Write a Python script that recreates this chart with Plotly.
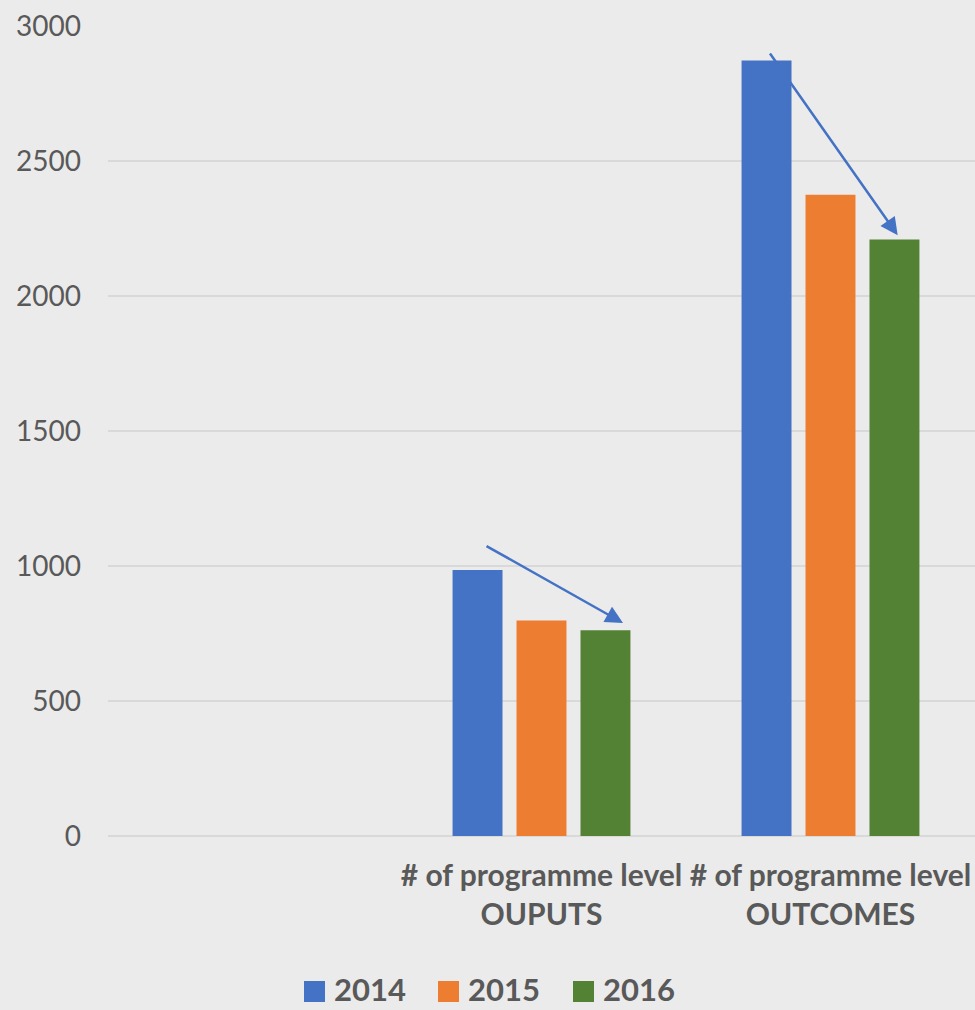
import plotly.graph_objects as go

# Categories (first slot intentionally blank)
categories = [" ", "# of programme level<br>OUPUTS", "# of programme level<br>OUTCOMES"]
years = ["2014", "2015", "2016"]
values_2014 = [None, 985, 2872]
values_2015 = [None, 798, 2375]
values_2016 = [None, 762, 2209]
colors = ["#4472C4", "#ED7D31", "#548235"]
y_ticks = [0, 500, 1000, 1500, 2000, 2500, 3000]

FONT = "Lato"
TEXT_COLOR = "#595959"
BG = "#EBEBEB"

W, H = 975, 1010
PLOT_L, PLOT_T, PLOT_B = 108, 26, 836

fig = go.Figure()
for name, vals, col in zip(years, [values_2014, values_2015, values_2016], colors):
    fig.add_trace(go.Bar(
        x=categories, y=vals, name=name,
        marker=dict(color=col, line=dict(width=0)),
        showlegend=False,
    ))

# Trend arrows (head at x/y, tail at ax/ay) in data coordinates
arrows = [
    dict(x=1.282, y=789, ax=0.8045, ay=1077),
    dict(x=2.2325, y=2225, ax=1.787, ay=2904),
]
for a in arrows:
    fig.add_annotation(
        x=a["x"], y=a["y"], ax=a["ax"], ay=a["ay"],
        xref="x", yref="y", axref="x", ayref="y",
        text="", showarrow=True, arrowhead=2, arrowsize=1.4,
        arrowwidth=2.5, arrowcolor="#4472C4",
    )


def px_x(p):
    return (p - PLOT_L) / (W - PLOT_L)


def px_y(p):
    return (PLOT_B - p) / (PLOT_B - PLOT_T)


# Legend drawn as square swatches with bold labels below the plot
legend_x = [304, 438, 573]  # swatch left edges in px
for xpx, name, col in zip(legend_x, years, colors):
    fig.add_shape(
        type="rect", xref="paper", yref="paper",
        x0=px_x(xpx), x1=px_x(xpx + 21),
        y0=px_y(1002), y1=px_y(981),
        fillcolor=col, line=dict(width=0),
    )
    fig.add_annotation(
        x=px_x(xpx + 29), y=px_y(1009),
        xref="paper", yref="paper", xanchor="left", yanchor="bottom",
        text="<b>%s</b>" % name, showarrow=False, borderpad=0,
        font=dict(family=FONT, size=31, color=TEXT_COLOR),
    )

fig.update_layout(
    width=W, height=H,
    margin=dict(l=PLOT_L, r=0, t=PLOT_T, b=H - PLOT_B),
    paper_bgcolor=BG, plot_bgcolor=BG,
    barmode="group", bargap=0.336, bargroupgap=0.219,
    font=dict(family=FONT, color=TEXT_COLOR),
    xaxis=dict(
        type="category", categoryorder="array", categoryarray=categories,
        range=[-0.5, 2.5], showgrid=False, zeroline=False, showline=False,
        ticks="", tickfont=dict(family=FONT, size=30, color=TEXT_COLOR, weight="bold"),
        ticklabelstandoff=19,
    ),
    yaxis=dict(
        range=[0, 3000], tickvals=y_ticks, showgrid=True, gridcolor="#D9D9D9",
        gridwidth=1.5, zeroline=True, zerolinecolor="#D9D9D9", zerolinewidth=1.5,
        ticks="", tickfont=dict(family=FONT, size=28, color=TEXT_COLOR),
        ticklabelstandoff=26,
    ),
)

fig.write_html("out.html")
